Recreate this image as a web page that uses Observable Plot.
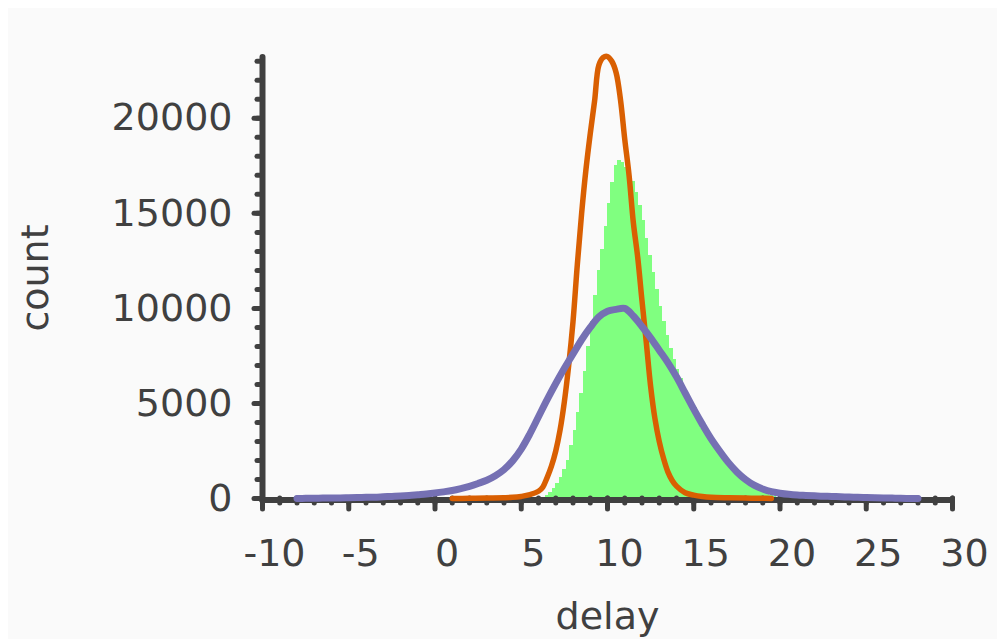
<!DOCTYPE html>
<html>
<head>
<meta charset="utf-8">
<script src="https://cdn.jsdelivr.net/npm/d3@7"></script>
<script src="https://cdn.jsdelivr.net/npm/@observablehq/plot@0.6"></script>
<style>
html, body { margin: 0; padding: 0; background: #ffffff; overflow: hidden; }
#chart { position: absolute; left: 8px; top: 8px; }
</style>
</head>
<body>
<div id="chart"></div>
<script>
// ---- data ----
const xLabel = "delay";
const yLabel = "count";

const xMajor = [-10, -5, 0, 5, 10, 15, 20, 25, 30];
const xMinor = [-10,-9,-8,-7,-6,-5,-4,-3,-2,-1,0,1,2,3,4,5,6,7,8,9,10,11,12,13,14,15,16,17,18,19,20,21,22,23,24,25,26,27,28,29,30];
const yMajor = [0, 5000, 10000, 15000, 20000];
const yMinor = [0,1000,2000,3000,4000,5000,6000,7000,8000,9000,10000,11000,12000,13000,14000,15000,16000,17000,18000,19000,20000,21000,22000,23000];

// green histogram: bin left edges, bin right edges, counts
const greenLo = [6.0,6.2,6.4,6.6,6.8,7.0,7.2,7.4,7.6,7.8,8.0,8.2,8.4,8.6,8.8,9.0,9.2,9.4,9.6,9.8,10.0,10.2,10.4,10.6,10.8,11.0,11.2,11.4,11.6,11.8,12.0,12.2,12.4,12.6,12.8,13.0,13.2,13.4,13.6,13.8,14.0,14.2,14.4,14.6,14.8,15.0,15.2,15.4,15.6,15.8,16.0,16.2,16.4,16.6,16.8,17.0,17.2,17.4,17.6,17.8,18.0,18.2,18.4,18.6,18.8,19.0,19.2,19.4,19.6,19.8];
const greenHi = [6.2,6.4,6.6,6.8,7.0,7.2,7.4,7.6,7.8,8.0,8.2,8.4,8.6,8.8,9.0,9.2,9.4,9.6,9.8,10.0,10.2,10.4,10.6,10.8,11.0,11.2,11.4,11.6,11.8,12.0,12.2,12.4,12.6,12.8,13.0,13.2,13.4,13.6,13.8,14.0,14.2,14.4,14.6,14.8,15.0,15.2,15.4,15.6,15.8,16.0,16.2,16.4,16.6,16.8,17.0,17.2,17.4,17.6,17.8,18.0,18.2,18.4,18.6,18.8,19.0,19.2,19.4,19.6,19.8,20.0];
const greenCount = [20,70,150,300,550,800,1100,1500,2000,2800,3600,4500,5500,6700,8000,9300,10700,12000,13100,14300,15500,16600,17500,17800,17650,17400,17150,16700,16100,15400,14600,13700,12800,11900,11000,10100,9300,8600,7900,7300,6800,6300,5800,5400,5100,4800,4000,3700,3400,3100,2850,2600,2350,2100,1850,1650,1450,1250,1100,950,820,700,580,480,390,310,240,170,100,50];

// orange line
const orangeX = [1,2,3,4,4.5,5,5.5,6,6.25,6.5,6.75,7,7.25,7.5,7.75,8,8.25,8.5,8.75,9,9.25,9.5,9.75,10,10.25,10.5,10.75,11,11.25,11.5,11.75,12,12.25,12.5,12.75,13,13.25,13.5,13.75,14,14.5,15,15.5,16,17,18,19,19.5];
const orangeY = [0,10,20,40,60,110,200,380,600,1100,1700,2500,3600,5100,7000,9300,12300,15000,17300,19200,20900,22800,23200,23250,23000,22400,21000,18900,17000,14500,12700,10400,8200,5900,4200,3000,2100,1400,950,650,300,180,110,70,40,20,10,0];

// purple line
const purpleX = [-8,-7.5,-7,-6.5,-6,-5.5,-5,-4.5,-4,-3.5,-3,-2.5,-2,-1.5,-1,-0.5,0,0.5,1,1.5,2,2.5,3,3.5,4,4.5,5,5.5,6,6.5,7,7.5,8,8.5,9,9.5,10,10.5,11,11.5,12,12.5,13,13.5,14,14.5,15,15.5,16,16.5,17,17.5,18,18.5,19,19.5,20,20.5,21,21.5,22,22.5,23,23.5,24,24.5,25,25.5,26,26.5,27,27.5,28];
const purpleY = [0,10,15,20,25,30,40,50,60,70,90,110,130,160,200,240,290,350,420,520,640,790,960,1200,1520,1980,2600,3400,4300,5200,6050,6850,7600,8350,9000,9550,9850,9950,10000,9600,9050,8450,7800,7150,6400,5550,4700,3900,3150,2500,1900,1400,1000,700,500,360,280,220,180,160,140,120,110,90,80,60,50,40,30,20,10,5,0];

// ---- tables built from the arrays ----
const green = greenLo.map((lo, i) => ({lo, hi: greenHi[i], count: greenCount[i]}));
const orange = orangeX.map((x, i) => ({x, y: orangeY[i]}));
const purple = purpleX.map((x, i) => ({x, y: purpleY[i]}));

const ink = "#404040";
const fontSize = 38;
const plain = d => String(d);

const chart = Plot.plot({
  width: 989,
  height: 631,
  marginLeft: 254,
  marginRight: 45,
  marginTop: 49,
  marginBottom: 141,
  style: {fontFamily: "DejaVu Sans", background: "#fafafa", overflow: "visible"},
  x: {domain: [-10, 30], label: null},
  y: {domain: [0, 23200], label: null},
  marks: [
    Plot.rectY(green, {x1: "lo", x2: "hi", y: "count", fill: "#80ff80", shapeRendering: "crispEdges"}),
    // minor ticks
    Plot.axisX({ticks: xMinor, tickSize: 5, tickFormat: () => "", stroke: ink, strokeWidth: 5, strokeLinecap: "round", label: null}),
    Plot.axisY({ticks: yMinor, tickSize: 5, tickFormat: () => "", stroke: ink, strokeWidth: 5, strokeLinecap: "round", label: null}),
    // major ticks
    Plot.axisX({ticks: xMajor, tickSize: 11, tickFormat: () => "", stroke: ink, strokeWidth: 5, strokeLinecap: "round", label: null}),
    Plot.axisY({ticks: yMajor, tickSize: 8, tickFormat: () => "", stroke: ink, strokeWidth: 5, strokeLinecap: "round", label: null}),
    // tick labels
    Plot.axisX({ticks: xMajor, tickSize: 0, tickPadding: 41, tickFormat: plain, fontSize, fill: ink, dx: 12, label: null}),
    Plot.axisY({ticks: yMajor, tickSize: 0, tickPadding: 30, tickFormat: plain, fontSize, fill: ink, label: null}),
    // axis lines
    Plot.ruleY([0], {x1: -10, x2: 30, stroke: ink, strokeWidth: 6, strokeLinecap: "round", dy: 1.5}),
    Plot.ruleX([-10], {y1: 0, y2: 23200, stroke: ink, strokeWidth: 6, strokeLinecap: "round"}),
    // lines
    Plot.line(orange, {x: "x", y: "y", stroke: "#d95f02", strokeWidth: 5.5, strokeLinejoin: "round", curve: "catmull-rom"}),
    Plot.line(purple, {x: "x", y: "y", stroke: "#7570b3", strokeWidth: 7, strokeLinejoin: "round", curve: "catmull-rom"}),
    // axis titles
    Plot.text([yLabel], {frameAnchor: "left", textAnchor: "middle", lineAnchor: "middle", dx: -227, rotate: -90, fontSize, fill: ink}),
    Plot.text([xLabel], {frameAnchor: "bottom", textAnchor: "middle", lineAnchor: "middle", dy: 118, fontSize, fill: ink})
  ]
});
document.getElementById("chart").appendChild(chart);
</script>
</body>
</html>
